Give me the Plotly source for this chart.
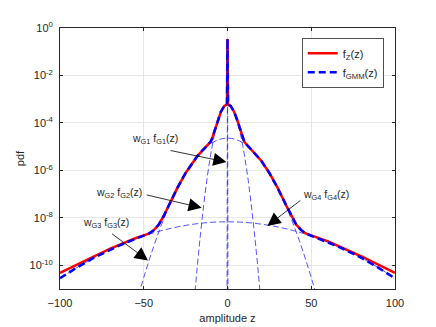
import plotly.graph_objects as go
import numpy as np

# ---- data (log10 of pdf values) ----
z_main = [-100, -90, -80, -70, -65, -60, -55, -50, -47, -44, -41, -38, -35, -30, -25, -20, -18, -16, -14, -12,
          -11, -10, -9, -8, -6, -4, -2, -0.3, 0, 0.3, 2, 4, 6, 8, 9, 10, 11, 12, 14, 16, 18, 20, 25, 30, 35,
          38, 41, 44, 47, 50, 55, 60, 65, 70, 80, 90, 100]
fgmm_log = [-10.55, -10.10, -9.69, -9.34, -9.18, -9.03, -8.89, -8.76, -8.67, -8.52, -8.28, -7.91, -7.47, -6.75,
            -6.11, -5.58, -5.40, -5.24, -5.10, -4.96, -4.88, -4.79, -4.62, -4.40, -3.92, -3.54, -3.29, -3.22,
            -0.46,
            -3.22, -3.29, -3.54, -3.92, -4.40, -4.62, -4.79, -4.88, -4.96, -5.10, -5.24, -5.40, -5.58, -6.11,
            -6.75, -7.47, -7.91, -8.28, -8.52, -8.67, -8.76, -8.89, -9.03, -9.18, -9.34, -9.69, -10.10, -10.55]
fz_log = [-10.32, -9.97, -9.63, -9.30, -9.15, -8.99, -8.86, -8.74, -8.67, -8.52, -8.28, -7.91, -7.47, -6.75,
          -6.11, -5.58, -5.40, -5.24, -5.10, -4.96, -4.88, -4.79, -4.62, -4.40, -3.92, -3.54, -3.29, -3.22,
          -0.46,
          -3.22, -3.29, -3.54, -3.92, -4.40, -4.62, -4.79, -4.88, -4.96, -5.10, -5.24, -5.40, -5.58, -6.11,
          -6.75, -7.47, -7.91, -8.28, -8.52, -8.67, -8.74, -8.86, -8.99, -9.15, -9.30, -9.63, -9.97, -10.32]

z_g1 = [-0.3, 0, 0.3]
g1_log = [-12.0, -0.46, -12.0]

z_g2 = [-22, -20, -18, -16, -14, -12, -10, -8, -6, -4, -2, 0, 2, 4, 6, 8, 10, 12, 14, 16, 18, 20, 22]
g2_log = [-13.38, -11.62, -10.02, -8.60, -7.34, -6.24, -5.32, -4.56, -3.98, -3.56, -3.30, -3.22,
          -3.30, -3.56, -3.98, -4.56, -5.32, -6.24, -7.34, -8.60, -10.02, -11.62, -13.38]

z_g3 = [-60, -55, -50, -45, -40, -35, -30, -25, -20, -15, -10, -5, 0, 5, 10, 15, 20, 25, 30, 35, 40, 45, 50, 55, 60]
g3_log = [-13.10, -11.75, -10.52, -9.40, -8.40, -7.52, -6.76, -6.11, -5.58, -5.17, -4.875, -4.70, -4.64,
          -4.70, -4.875, -5.17, -5.58, -6.11, -6.76, -7.52, -8.40, -9.40, -10.52, -11.75, -13.10]

z_g4 = [-100, -90, -80, -70, -60, -50, -40, -30, -20, -10, 0, 10, 20, 30, 40, 50, 60, 70, 80, 90, 100]
g4_log = [-10.55, -10.098, -9.693, -9.336, -9.027, -8.765, -8.551, -8.384, -8.265, -8.19, -8.17,
          -8.19, -8.265, -8.384, -8.551, -8.765, -9.027, -9.336, -9.693, -10.098, -10.55]

y_tickvals_exp = [0, -2, -4, -6, -8, -10]
x_tickvals = [-100, -50, 0, 50, 100]

comp_color = "rgb(40,40,255)"

fig = go.Figure()
for zz, ll in [(z_g1, g1_log), (z_g2, g2_log), (z_g3, g3_log), (z_g4, g4_log)]:
    fig.add_trace(go.Scatter(x=zz, y=np.power(10.0, ll), mode="lines", showlegend=False,
                             line=dict(color=comp_color, width=0.8, dash="6px,3px",
                                       shape="linear" if len(zz) == 3 else "spline")))

fig.add_trace(go.Scatter(x=z_main, y=np.power(10.0, fz_log), mode="lines", name="f<sub>Z</sub>(z)",
                         line=dict(color="#ff0000", width=2.5)))
fig.add_trace(go.Scatter(x=z_main, y=np.power(10.0, fgmm_log), mode="lines", name="f<sub>GMM</sub>(z)",
                         line=dict(color="#0000ff", width=2.5, dash="7px,4px")))

# annotations: arrows (tip, tail) in data coords (log10 for y)
arrows = [
    (-0.6, -5.65, -34.9, -5.15),
    (-15.4, -7.58, -49.1, -7.02),
    (-47.5, -9.80, -69.8, -8.63),
    (23.8, -8.34, 44.4, -7.22),
]
for (xt, yt, xa, ya) in arrows:
    fig.add_annotation(x=xt, y=yt, ax=xa, ay=ya, xref="x", yref="y", axref="x", ayref="y",
                       text="", showarrow=True, arrowhead=2, arrowsize=3.3, arrowwidth=0.8,
                       arrowcolor="black")

labels = [
    (-43.2, -4.69, "w<sub>G1</sub> f<sub>G1</sub>(z)"),
    (-64.5, -6.97, "w<sub>G2</sub> f<sub>G2</sub>(z)"),
    (-72.8, -8.22, "w<sub>G3</sub> f<sub>G3</sub>(z)"),
    (58.6, -7.02, "w<sub>G4</sub> f<sub>G4</sub>(z)"),
]
for (xx, yy, tt) in labels:
    fig.add_annotation(x=xx, y=yy, xref="x", yref="y", text=tt, showarrow=False,
                       font=dict(size=10.5, color="#262626"))

axis_common = dict(showgrid=True, gridcolor="#e6e6e6", gridwidth=1, showline=True, linecolor="#262626",
                   linewidth=0.8, mirror="ticks", ticks="inside", ticklen=3, tickcolor="#262626",
                   zeroline=False, tickfont=dict(size=11, color="#262626"), ticklabelstandoff=4)

fig.update_xaxes(range=[-100, 100], tickvals=x_tickvals, title=dict(text="amplitude z", standoff=6,
                 font=dict(size=11)), **axis_common)
fig.update_yaxes(type="log", range=[-11, 0], tickvals=[10.0 ** e for e in y_tickvals_exp],
                 ticktext=["10<sup>%d</sup>" % e for e in y_tickvals_exp],
                 title=dict(text="pdf", standoff=2, font=dict(size=11)), **axis_common)

fig.update_layout(
    width=436, height=327,
    margin=dict(l=49, r=49, t=16, b=46),
    plot_bgcolor="white", paper_bgcolor="white",
    font=dict(family="Liberation Sans, Arial, sans-serif", size=11, color="#262626"),
    legend=dict(x=0.967, y=0.962, xanchor="right", yanchor="top", bgcolor="white",
                bordercolor="#262626", borderwidth=0.8, font=dict(size=11), itemwidth=30,
                tracegroupgap=0),
)

fig.write_html("out.html")
